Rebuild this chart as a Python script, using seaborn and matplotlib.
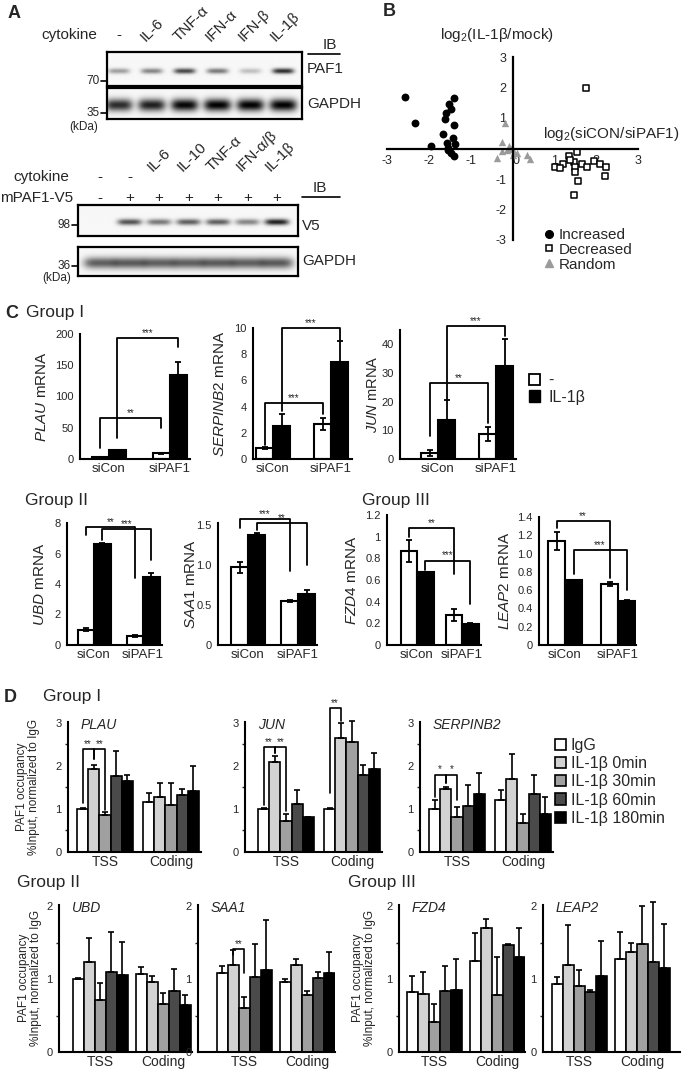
import numpy as np
import pandas as pd
import matplotlib
matplotlib.use('Agg')
import matplotlib.pyplot as plt
import seaborn as sns
from matplotlib.patches import Patch
from matplotlib.lines import Line2D

sns.set_style('white')
plt.rcParams['font.family'] = ['Liberation Sans', 'DejaVu Sans']
plt.rcParams['mathtext.fontset'] = 'custom'
plt.rcParams['mathtext.rm'] = 'Liberation Sans'
plt.rcParams['mathtext.it'] = 'Liberation Sans:italic'
plt.rcParams['axes.unicode_minus'] = False

W, H = 682, 1073

# ---------------- data ----------------
# A: blot band intensities (0 = none, 1 = saturated)
blot1_lanes = ['-', 'IL-6', 'TNF-α', 'IFN-α', 'IFN-β', 'IL-1β']
blot1_paf1 = [0.35, 0.45, 0.7, 0.5, 0.22, 0.8]
blot1_gapdh = [0.8, 0.85, 0.95, 0.97, 0.97, 0.97]
blot2_lanes = ['-', '-', 'IL-6', 'IL-10', 'TNF-α', 'IFN-α/β', 'IL-1β']
blot2_mpaf1 = ['-', '+', '+', '+', '+', '+', '+']
blot2_v5 = [0.0, 0.65, 0.5, 0.6, 0.6, 0.45, 0.85]
blot2_gapdh = [0.6, 0.62, 0.6, 0.6, 0.62, 0.6, 0.62]

# B: log2(siCON/siPAF1) vs log2(IL-1b/mock)
inc_x = [-2.57, -2.33, -1.95, -1.41, -1.51, -1.47, -1.58, -1.62, -1.40, -1.65,
         -1.43, -1.56, -1.37, -1.55, -1.47, -1.41, -1.54]
inc_y = [1.70, 0.83, 0.07, 1.64, 1.45, 1.30, 1.18, 0.97, 0.77, 0.49,
         0.33, 0.17, 0.14, -0.04, -0.15, -0.24, 0.01]
dec_x = [1.76, 1.35, 1.54, 1.02, 1.20, 1.46, 1.50, 1.66, 1.78, 1.94,
         2.10, 2.24, 2.21, 1.50, 1.56, 1.46, 1.38, 1.13]
dec_y = [2.00, -0.24, -0.11, -0.62, -0.52, -0.43, -0.61, -0.52, -0.61, -0.42,
         -0.52, -0.61, -0.89, -0.77, -1.07, -1.54, -0.39, -0.65]
ran_x = [-0.19, -0.25, -0.37, -0.26, -0.08, -0.04, 0.04, 0.11, 0.0, 0.35, 0.43, -0.14]
ran_y = [0.84, 0.21, -0.31, -0.09, 0.08, 0.0, -0.10, -0.15, -0.20, -0.20, -0.33, -0.04]

# C: mRNA levels, order siCon -, siCon IL-1b, siPAF1 -, siPAF1 IL-1b
c_conditions = ['siCon', 'siPAF1']
c_treatments = ['-', 'IL-1β']
plau_mrna = [3, 14, 9, 135]
plau_mrna_err = [0.5, 1, 1, 20]
serpinb2_mrna = [0.85, 2.5, 2.7, 7.4]
serpinb2_mrna_err = [0.07, 0.95, 0.45, 1.6]
jun_mrna = [2.2, 13.5, 8.8, 32.5]
jun_mrna_err = [1.0, 7.0, 2.5, 9.5]
ubd_mrna = [1.0, 6.6, 0.6, 4.45]
ubd_mrna_err = [0.1, 0.1, 0.05, 0.3]
saa1_mrna = [0.97, 1.37, 0.55, 0.63]
saa1_mrna_err = [0.07, 0.02, 0.015, 0.05]
fzd4_mrna = [0.87, 0.67, 0.28, 0.195]
fzd4_mrna_err = [0.1, 0.0, 0.055, 0.01]
leap2_mrna = [1.14, 0.71, 0.67, 0.48]
leap2_mrna_err = [0.1, 0.005, 0.02, 0.01]

# D: PAF1 occupancy, TSS (5 values) then Coding (5 values)
d_regions = ['TSS', 'Coding']
d_times = ['IgG', 'IL-1β 0min', 'IL-1β 30min', 'IL-1β 60min', 'IL-1β 180min']
plau_occ = [1.0, 1.93, 0.87, 1.77, 1.65, 1.15, 1.28, 1.1, 1.33, 1.42]
plau_occ_err = [0.03, 0.1, 0.06, 0.57, 0.13, 0.22, 0.32, 0.5, 0.13, 0.58]
jun_occ = [1.0, 2.1, 0.73, 1.12, 0.82, 1.0, 2.65, 2.55, 1.8, 1.93]
jun_occ_err = [0.02, 0.13, 0.15, 0.32, 0.0, 0.02, 0.35, 0.5, 0.23, 0.37]
serpinb2_occ = [1.0, 1.47, 0.82, 1.07, 1.35, 1.2, 1.7, 0.68, 1.35, 0.88]
serpinb2_occ_err = [0.2, 0.05, 0.22, 0.48, 0.48, 0.25, 0.58, 0.2, 0.43, 0.4]
ubd_occ = [1.0, 1.23, 0.72, 1.1, 1.06, 1.07, 0.96, 0.66, 0.84, 0.64]
ubd_occ_err = [0.02, 0.33, 0.23, 0.55, 0.45, 0.1, 0.09, 0.15, 0.3, 0.14]
saa1_occ = [1.08, 1.2, 0.61, 1.03, 1.13, 0.96, 1.2, 0.78, 1.02, 1.08]
saa1_occ_err = [0.1, 0.2, 0.14, 0.45, 0.68, 0.05, 0.08, 0.06, 0.08, 0.3]
fzd4_occ = [0.82, 0.8, 0.41, 0.84, 0.85, 1.25, 1.7, 0.78, 1.47, 1.3]
fzd4_occ_err = [0.23, 0.3, 0.25, 0.34, 0.43, 0.38, 0.13, 0.52, 0.02, 0.4]
leap2_occ = [0.93, 1.2, 0.91, 0.82, 1.05, 1.28, 1.38, 1.48, 1.24, 1.16]
leap2_occ_err = [0.1, 0.55, 0.21, 0.03, 0.47, 0.37, 0.12, 0.53, 0.82, 0.6]

d_colors = ['white', '#d2d2d2', '#a0a0a0', '#4a4a4a', 'black']

# ---------------- figure ----------------
fig = plt.figure(figsize=(W / 100, H / 100), dpi=100)


def px_ax(x0, y0, x1, y1):
    return fig.add_axes([x0 / W, 1 - y1 / H, (x1 - x0) / W, (y1 - y0) / H])


def style_spines(ax, lw=1.5):
    sns.despine(ax=ax)
    for s in ['left', 'bottom']:
        ax.spines[s].set_linewidth(lw)
        ax.spines[s].set_color('black')
    ax.patch.set_alpha(0)


def draw_blot(ax, intens, x_first, x_last, band_y, band_h, band_w):
    X, Y = np.meshgrid(np.linspace(0, 1, 400), np.linspace(0, 1, 80))
    img = np.full_like(X, 0.03)
    for c, v in zip(np.linspace(x_first, x_last, len(intens)), intens):
        img += v * np.exp(-(np.abs(X - c) / band_w) ** 4) * np.exp(-((Y - band_y) / band_h) ** 2)
    ax.imshow(np.clip(img, 0, 1), cmap='gray_r', vmin=0, vmax=1, aspect='auto',
              extent=[0, 1, 1, 0], interpolation='bilinear')
    ax.set_xlim(0, 1)
    ax.set_ylim(1, 0)
    ax.set_xticks([])
    ax.set_yticks([])
    for s in ax.spines.values():
        s.set_linewidth(1.6)
        s.set_color('black')


def c_panel(mean, err, axis_x, c0, c1, right_x, top_px, bot_px, ytop, yticks, ytl,
            gene, label_x, brackets, bar_px=17, label_fs=11):
    sp = c1 - c0
    ax = px_ax(axis_x, top_px, right_x, bot_px)
    df = pd.DataFrame({'cond': np.repeat(c_conditions, 2),
                       'trt': c_treatments * 2, 'val': mean})
    sns.barplot(data=df, x='cond', y='val', hue='trt', order=c_conditions,
                hue_order=c_treatments, palette={'-': 'white', 'IL-1β': 'black'},
                edgecolor='black', linewidth=1.5, width=2 * bar_px / sp,
                errorbar=None, legend=False, saturation=1, ax=ax)
    ax.set_xlim((axis_x - c0) / sp, (right_x - c0) / sp)
    ax.set_ylim(0, ytop)
    bars = sorted(ax.patches, key=lambda p: p.get_x())
    xs = [p.get_x() + p.get_width() / 2 for p in bars]
    ax.errorbar(xs, mean, yerr=err, fmt='none', ecolor='black', elinewidth=1.3,
                capsize=2, capthick=1.3, zorder=5)
    ax.set_yticks(yticks)
    ax.set_yticklabels(ytl)
    ax.set_xlabel('')
    ax.set_ylabel('')
    ax.set_xticks([0, 1])
    ax.set_xticklabels(c_conditions, fontsize=9.5)
    ax.tick_params(axis='x', length=0, pad=3)
    ax.tick_params(axis='y', length=3, width=1.3, labelsize=8, pad=1.5)
    style_spines(ax)
    for i, j, top, lend, rend, txt in brackets:
        ax.plot([xs[i], xs[i], xs[j], xs[j]], [lend, top, top, rend], color='black',
                lw=1.3, clip_on=False, zorder=6)
        ax.text((xs[i] + xs[j]) / 2, top, txt, ha='center', va='bottom', fontsize=7,
                clip_on=False)
    ov.text(label_x, (top_px + bot_px) / 2, r'$\mathit{' + gene + '}$ mRNA', rotation=90,
            ha='center', va='center', fontsize=label_fs)
    return ax


def d_panel(vals, errs, axis_x, c_tss, c_cod, right_x, top_px, bot_px, ytop, ymax_tick,
            gene, brackets, bar_px=11.2):
    sp = c_cod - c_tss
    ax = px_ax(axis_x, top_px, right_x, bot_px)
    df = pd.DataFrame({'region': np.repeat(d_regions, 5), 'time': d_times * 2, 'val': vals})
    sns.barplot(data=df, x='region', y='val', hue='time', order=d_regions, hue_order=d_times,
                palette=dict(zip(d_times, d_colors)), edgecolor='black', linewidth=1.2,
                width=5 * bar_px / sp, errorbar=None, legend=False, saturation=1, ax=ax)
    ax.set_xlim((axis_x - c_tss) / sp, (right_x - c_tss) / sp)
    ax.set_ylim(0, ytop)
    bars = sorted(ax.patches, key=lambda p: p.get_x())
    xs = [p.get_x() + p.get_width() / 2 for p in bars]
    ax.errorbar(xs, vals, yerr=[np.zeros(len(vals)), errs], fmt='none', ecolor='black',
                elinewidth=1.2, capsize=2, capthick=1.2, zorder=5, clip_on=False)
    ax.set_yticks(np.arange(0, ymax_tick + 1))
    ax.set_yticks(np.arange(0.5, ymax_tick, 1.0), minor=True)
    ax.set_xlabel('')
    ax.set_ylabel('')
    ax.set_xticks([0, 1])
    ax.set_xticklabels(d_regions, fontsize=10)
    ax.tick_params(axis='x', length=0, pad=2)
    ax.tick_params(axis='y', which='major', length=3, width=1.2, labelsize=8, pad=1.5)
    ax.tick_params(axis='y', which='minor', length=2, width=1.0, left=True)
    style_spines(ax)
    for i, j, top, lend, rend, txt in brackets:
        ax.plot([xs[i], xs[i], xs[j], xs[j]], [lend, top, top, rend], color='black',
                lw=1.2, clip_on=False, zorder=6)
        ax.text((xs[i] + xs[j]) / 2, top, txt, ha='center', va='bottom', fontsize=7,
                clip_on=False)
    ov.text(axis_x + 13, top_px + 3, gene, style='italic', ha='left', va='center', fontsize=10)
    return ax


ov = fig.add_axes([0, 0, 1, 1], zorder=10)
ov.set_xlim(0, W)
ov.set_ylim(H, 0)
ov.axis('off')
ov.patch.set_visible(False)

# ---------------- A ----------------
ov.text(8, 13, 'A', fontsize=13, fontweight='bold', va='center')
ax = px_ax(107, 52, 302, 86)
draw_blot(ax, blot1_paf1, 0.06, 0.90, 0.56, 0.08, 0.055)
ax = px_ax(107, 88, 302, 119)
draw_blot(ax, blot1_gapdh, 0.06, 0.90, 0.55, 0.2, 0.07)
ov.text(41, 35, 'cytokine', fontsize=11, va='center')
for lx, lab in zip(np.linspace(119, 282, len(blot1_lanes)), blot1_lanes):
    if lab == '-':
        ov.text(lx, 35, lab, fontsize=11, ha='center', va='center')
    else:
        ov.text(lx - 6, 42, lab, fontsize=11, rotation=45, rotation_mode='anchor',
                ha='left', va='baseline')
ov.text(330, 45, 'IB', fontsize=11, ha='center', va='center')
ov.plot([308, 340], [54, 54], color='black', lw=1.2)
ov.text(307, 69, 'PAF1', fontsize=11, va='center')
ov.text(307, 104, 'GAPDH', fontsize=11, va='center')
for y, lab in [(81, '70'), (113, '35')]:
    ov.plot([101, 107], [y, y], color='black', lw=1.2)
    ov.text(100, y, lab, fontsize=8.5, ha='right', va='center')
ov.text(84, 127, '(kDa)', fontsize=8.5, ha='center', va='center')

ax = px_ax(78, 205, 298, 236)
draw_blot(ax, blot2_v5, 0.1, 0.905, 0.55, 0.1, 0.055)
ax = px_ax(78, 247, 298, 276)
draw_blot(ax, blot2_gapdh, 0.1, 0.905, 0.55, 0.2, 0.075)
ov.text(13, 177, 'cytokine', fontsize=11, va='center')
ov.text(0, 198, 'mPAF1-V5', fontsize=11, va='center')
for lx, lab, v5 in zip(np.linspace(100, 277, len(blot2_lanes)), blot2_lanes, blot2_mpaf1):
    if lab == '-':
        ov.text(lx, 177, lab, fontsize=11, ha='center', va='center')
    else:
        ov.text(lx - 6, 172, lab, fontsize=11, rotation=45, rotation_mode='anchor',
                ha='left', va='baseline')
    ov.text(lx, 198, v5, fontsize=11, ha='center', va='center')
ov.text(320, 188, 'IB', fontsize=11, ha='center', va='center')
ov.plot([302, 340], [197, 197], color='black', lw=1.2)
ov.text(302, 226, 'V5', fontsize=11, va='center')
ov.text(302, 261, 'GAPDH', fontsize=11, va='center')
for y, lab in [(225, '98'), (266, '36')]:
    ov.plot([72, 78], [y, y], color='black', lw=1.2)
    ov.text(71, y, lab, fontsize=8.5, ha='right', va='center')
ov.text(57, 278, '(kDa)', fontsize=8.5, ha='center', va='center')

# ---------------- B ----------------
ov.text(383, 12, 'B', fontsize=13, fontweight='bold', va='center')
axB = px_ax(387, 57, 638, 240)
sns.scatterplot(x=inc_x, y=inc_y, color='black', marker='o', s=32, linewidth=0, ax=axB)
sns.scatterplot(x=dec_x, y=dec_y, marker='s', s=24, fc='white', ec='black', linewidth=1.1, ax=axB)
sns.scatterplot(x=ran_x, y=ran_y, marker='^', s=28, color='#9b9b9b', linewidth=0, ax=axB)
axB.set_xlim(-3, 3)
axB.set_ylim(-3, 3)
axB.spines['left'].set_position(('data', 0))
axB.spines['bottom'].set_position(('data', 0))
style_spines(axB, lw=1.6)
axB.set_xticks([-3, -2, -1, 0, 1, 2, 3])
axB.set_yticks([-3, -2, -1, 1, 2, 3])
axB.tick_params(axis='both', direction='out', length=3, width=1.3, labelsize=9, pad=1.5)
axB.get_xticklabels()[3].set_ha('left')
ov.text(497, 35, 'log$_2$(IL-1β/mock)', fontsize=11, ha='center', va='center')
ov.text(543, 134, 'log$_2$(siCON/siPAF1)', fontsize=11, ha='left', va='center')
fig.legend(handles=[Line2D([], [], marker='o', ls='', color='black', ms=5.5),
                    Line2D([], [], marker='s', ls='', mfc='white', mec='black', mew=1.1, ms=5),
                    Line2D([], [], marker='^', ls='', color='#9b9b9b', ms=5.5)],
           labels=['Increased', 'Decreased', 'Random'], loc='upper left',
           bbox_to_anchor=(543 / W, 1 - 228 / H), frameon=False, fontsize=11,
           handlelength=0.8, handletextpad=0.2, labelspacing=0.05, borderpad=0, borderaxespad=0)

# ---------------- C ----------------
ov.text(5, 313, 'C', fontsize=13, fontweight='bold', va='center')
ov.text(26, 313, 'Group I', fontsize=12.5, va='center')
c_panel(plau_mrna, plau_mrna_err, 80, 109, 170, 190, 334, 459, 200,
        [0, 50, 100, 150, 200], ['0', '50', '100', '150', '200'], 'PLAU', 42,
        [(0, 2, 66, 17, 50, '**'), (1, 3, 194, 33, 180, '***')])
c_panel(serpinb2_mrna, serpinb2_mrna_err, 253, 273, 331, 352, 328, 459, 10,
        [0, 2, 4, 6, 8, 10], ['0', '2', '4', '6', '8', '10'], 'SERPINB2', 220,
        [(0, 2, 4.3, 1.1, 3.4, '***'), (1, 3, 10, 3.7, 9.1, '***')])
c_panel(jun_mrna, jun_mrna_err, 400, 438, 496, 516, 330, 459, 45,
        [0, 10, 20, 30, 40], ['0', '10', '20', '30', '40'], 'JUN', 373,
        [(0, 2, 26.4, 8, 12.5, '**'), (1, 3, 46.5, 21, 43, '***')], label_fs=10.5)
fig.legend(handles=[Patch(fc='white', ec='black', lw=1.3), Patch(fc='black', ec='black')],
           labels=c_treatments, loc='upper left', bbox_to_anchor=(529 / W, 1 - 373 / H),
           frameon=False, fontsize=11.5, handlelength=0.7, handleheight=0.7,
           handletextpad=0.5, labelspacing=0.1, borderpad=0, borderaxespad=0)

ov.text(25, 500, 'Group II', fontsize=12.5, va='center')
ov.text(362, 500, 'Group III', fontsize=12.5, va='center')
c_panel(ubd_mrna, ubd_mrna_err, 67, 94, 143, 162, 523, 645, 8,
        [0, 2, 4, 6, 8], ['0', '2', '4', '6', '8'], 'UBD', 40,
        [(0, 2, 7.75, 7.2, 4.4, '**'), (1, 3, 7.6, 6.9, 5.6, '***')], bar_px=16.5)
c_panel(saa1_mrna, saa1_mrna_err, 218, 248, 298, 317, 523, 645, 1.52,
        [0, 0.5, 1.0, 1.5], ['0', '0.5', '1.0', '1.5'], 'SAA1', 191,
        [(0, 2, 1.57, 1.46, 0.92, '***'), (1, 3, 1.52, 1.43, 1.0, '**')], bar_px=17)
c_panel(fzd4_mrna, fzd4_mrna_err, 387, 417, 462, 481, 515, 645, 1.2,
        [0, 0.2, 0.4, 0.6, 0.8, 1.0, 1.2], ['0', '0.2', '0.4', '0.6', '0.8', '1', '1.2'],
        'FZD4', 352, [(0, 2, 1.08, 1.0, 0.66, '**'), (1, 3, 0.78, 0.69, 0.38, '***')],
        bar_px=16.5)
c_panel(leap2_mrna, leap2_mrna_err, 539, 565, 618, 636, 517, 645, 1.4,
        [0, 0.2, 0.4, 0.6, 0.8, 1.0, 1.2, 1.4],
        ['0', '0.2', '0.4', '0.6', '0.8', '1.0', '1.2', '1.4'], 'LEAP2', 505,
        [(0, 2, 1.36, 1.28, 0.73, '**'), (1, 3, 1.04, 0.78, 0.6, '***')], bar_px=17)

# ---------------- D ----------------
ov.text(4, 697, 'D', fontsize=13, fontweight='bold', va='center')
ov.text(43, 697, 'Group I', fontsize=12.5, va='center')
occ_label = 'PAF1 occupancy\n%Input, normalized to IgG'
d_panel(plau_occ, plau_occ_err, 68, 105, 171, 201, 722, 852, 3.02, 3, 'PLAU',
        [(0, 1, 2.39, 1.13, 2.15, '**'), (1, 2, 2.39, 2.15, 0.97, '**')])
d_panel(jun_occ, jun_occ_err, 245, 286, 352, 382, 722, 852, 3.02, 3, 'JUN',
        [(0, 1, 2.44, 1.1, 2.3, '**'), (1, 2, 2.44, 2.3, 0.95, '**'),
         (5, 6, 3.35, 1.36, 3.05, '**')])
d_panel(serpinb2_occ, serpinb2_occ_err, 420, 457, 523, 553, 722, 852, 3.02, 3, 'SERPINB2',
        [(0, 1, 1.8, 1.28, 1.6, '*'), (1, 2, 1.8, 1.6, 1.2, '*')])
ov.text(28, 787, occ_label, rotation=90, ha='center', va='center', fontsize=8.5,
        linespacing=1.1, multialignment='center')
fig.legend(handles=[Patch(fc=c, ec='black', lw=1.2) for c in d_colors], labels=d_times,
           loc='upper left', bbox_to_anchor=(555 / W, 1 - 738 / H), frameon=False,
           fontsize=11.5, handlelength=0.7, handleheight=0.7, handletextpad=0.3,
           labelspacing=0.2, borderpad=0, borderaxespad=0)

ov.text(17, 883, 'Group II', fontsize=12.5, va='center')
ov.text(348, 883, 'Group III', fontsize=12.5, va='center')
d_panel(ubd_occ, ubd_occ_err, 59, 100, 163, 192, 905, 1052, 2.02, 2, 'UBD', [], bar_px=11)
d_panel(saa1_occ, saa1_occ_err, 198, 244, 307, 335, 905, 1052, 2.02, 2, 'SAA1',
        [(1, 2, 1.41, 1.33, 1.08, '**')], bar_px=11)
d_panel(fzd4_occ, fzd4_occ_err, 399, 434, 497, 525, 905, 1052, 2.02, 2, 'FZD4', [], bar_px=11)
d_panel(leap2_occ, leap2_occ_err, 543, 579, 642, 680, 905, 1052, 2.02, 2, 'LEAP2', [], bar_px=11)
ov.text(30, 978, occ_label, rotation=90, ha='center', va='center', fontsize=8.5,
        linespacing=1.1, multialignment='center')
ov.text(364, 978, occ_label, rotation=90, ha='center', va='center', fontsize=8.5,
        linespacing=1.1, multialignment='center')

fig.savefig('out.png', dpi=100)
